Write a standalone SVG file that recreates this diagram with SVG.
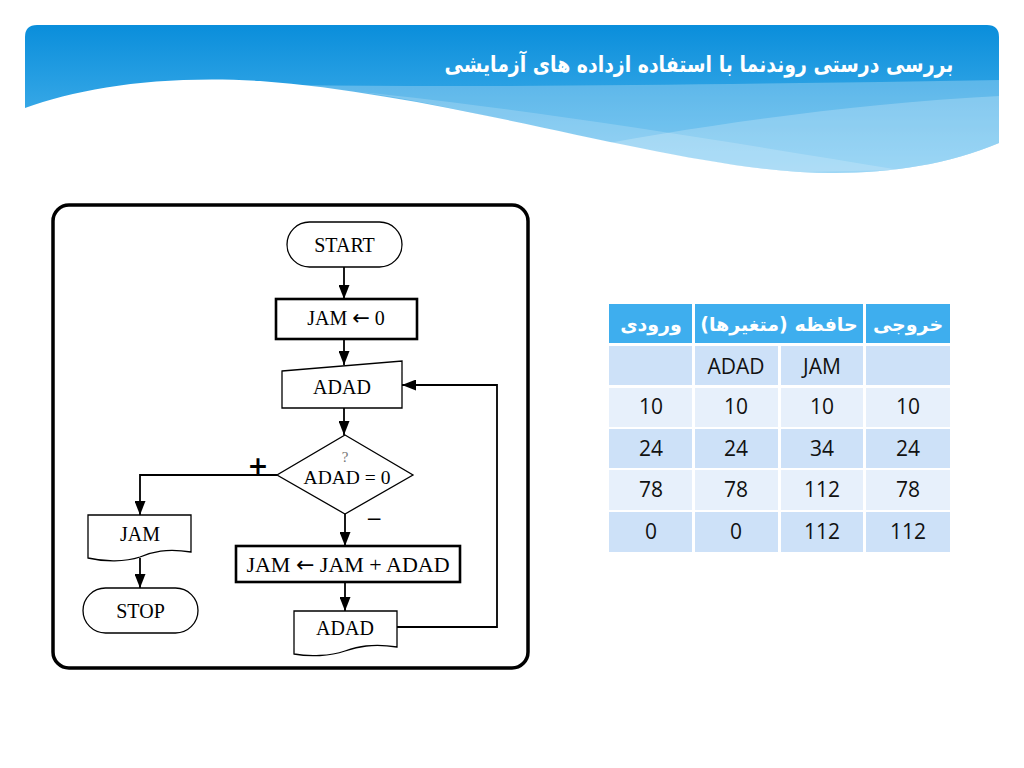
<svg xmlns="http://www.w3.org/2000/svg" width="1024" height="768" viewBox="0 0 1024 768">
<style>
.fc{font-family:"Liberation Serif","Times New Roman",serif;fill:#000;text-anchor:middle}
.ar{font-family:"DejaVu Sans",sans-serif}
.thin{fill:#fff;stroke:#000;stroke-width:1.3}
.bold{fill:#fff;stroke:#000;stroke-width:2.6}
.conn{fill:none;stroke:#000;stroke-width:1.8}
.fa{font-family:"DejaVu Sans","Noto Sans",sans-serif;direction:rtl;text-anchor:middle}
.th{fill:#3eaeee}
.rd{fill:#cde1f8}
.rl{fill:#e7f0fb}
.td{font-family:"Open Sans","Noto Sans",sans-serif;font-size:21px;fill:#111;text-anchor:middle}
</style>
<defs>
<linearGradient id="bg" x1="0" y1="25" x2="0" y2="175" gradientUnits="userSpaceOnUse">
<stop offset="0" stop-color="#0a8edb"/>
<stop offset="1" stop-color="#58bbef"/>
</linearGradient>
<marker id="ah" viewBox="0 0 14 11" refX="14" refY="5.5" markerWidth="14" markerHeight="11" markerUnits="userSpaceOnUse" orient="auto">
<path d="M0,0 L14,5.5 L0,11 Z" fill="#000"/>
</marker>
</defs>
<rect width="1024" height="768" fill="#fff"/>
<g id="banner">
<path d="M25,108 L25,37 Q25,25 37,25 L987,25 Q999,25 999,37 L999,143 C940,168 870,176 800,172 C650,162 450,95 260,81 C160,75 80,88 25,108 Z" fill="url(#bg)"/>
<path d="M290,85 C500,88 750,84 999,80 L999,143 C940,168 870,176 800,172 C650,162 450,98 290,85 Z" fill="#fff" opacity="0.25"/>
<path d="M560,152 C700,125 850,104 999,96 L999,143 C940,168 870,176 800,172 C720,168 640,162 560,152 Z" fill="#fff" opacity="0.22"/>
<path d="M360,92 C520,108 720,140 900,170 L800,172 C650,162 480,108 360,92 Z" fill="#fff" opacity="0.18"/>
<text class="fa" transform="translate(699,72) scale(0.84,1)" x="0" y="0" font-size="22.5" font-weight="bold" fill="#fff">بررسی درستی روندنما با استفاده ازداده های آزمایشی</text>
</g>
<rect id="frame" x="53" y="205" width="475" height="463" rx="16" fill="#fff" stroke="#000" stroke-width="3.5"/>
<g id="connectors">
<path class="conn" d="M344,267 L344,299" marker-end="url(#ah)"/>
<path class="conn" d="M344,339 L344,365" marker-end="url(#ah)"/>
<path class="conn" d="M344,408 L344,435" marker-end="url(#ah)"/>
<path class="conn" d="M277,475 L140,475 L140,515" marker-end="url(#ah)"/>
<path class="conn" d="M345,514 L345,546" marker-end="url(#ah)"/>
<path class="conn" d="M345,582 L345,611" marker-end="url(#ah)"/>
<path class="conn" d="M397,627 L497,627 L497,385 L402,385" marker-end="url(#ah)"/>
<path class="conn" d="M140,558 L140,588" marker-end="url(#ah)"/>
<text x="258" y="474" font-family="DejaVu Sans,sans-serif" font-size="25" font-weight="bold" text-anchor="middle">+</text>
<text class="fc" x="374" y="528" font-size="27">−</text>
</g>
<g id="start">
<rect class="thin" x="287" y="222" width="115" height="45" rx="22.5"/>
<text class="fc" x="344.5" y="252" font-size="20">START</text>
</g>
<g id="init">
<rect class="bold" x="276" y="299" width="141" height="40"/>
<text class="fc" x="346" y="325" font-size="20">JAM <tspan class="ar" font-size="21">←</tspan> 0</text>
</g>
<g id="input">
<path class="thin" d="M282,371 L402,361 L402,408 L282,408 Z"/>
<text class="fc" x="342" y="394" font-size="20">ADAD</text>
</g>
<g id="decision">
<path class="thin" d="M345,435 L413,475 L345,514 L277,475 Z"/>
<text class="fc" x="345" y="462" font-size="15" style="fill:#777">?</text>
<text class="fc" x="347" y="484" font-size="19.5">ADAD = 0</text>
</g>
<g id="sum">
<rect class="bold" x="236" y="546" width="224" height="36"/>
<text class="fc" x="348" y="572" font-size="22">JAM <tspan class="ar" font-size="22">←</tspan> JAM + ADAD</text>
</g>
<g id="outadad">
<path class="thin" d="M294,611 L397,611 L397,647 C372,643 357,647 345,651 C330,656 310,657 294,654 Z"/>
<text class="fc" x="345" y="635" font-size="20">ADAD</text>
</g>
<g id="outjam">
<path class="thin" d="M88,515 L191,515 L191,552 C166,548 152,552 140,557 C125,562 105,562 88,558 Z"/>
<text class="fc" x="140" y="541" font-size="20">JAM</text>
</g>
<g id="stop">
<rect class="thin" x="83" y="588" width="115" height="45" rx="22.5"/>
<text class="fc" x="140.5" y="618" font-size="20">STOP</text>
</g>
<g id="table">
<rect class="th" x="609" y="304" width="83" height="39"/>
<rect class="th" x="695" y="304" width="168" height="39"/>
<rect class="th" x="866" y="304" width="84" height="39"/>
<text class="fa" x="651" y="331" font-size="19" font-weight="bold" fill="#fff">ورودی</text>
<text class="fa" x="779" y="331" font-size="19" font-weight="bold" fill="#fff">حافظه (متغیرها)</text>
<text class="fa" x="908" y="331" font-size="19" font-weight="bold" fill="#fff">خروجی</text>
<g>
<rect class="rd" x="609" y="346" width="83" height="39"/><rect class="rd" x="695" y="346" width="83" height="39"/><rect class="rd" x="781" y="346" width="82" height="39"/><rect class="rd" x="866" y="346" width="84" height="39"/>
<rect class="rl" x="609" y="388" width="83" height="39"/><rect class="rl" x="695" y="388" width="83" height="39"/><rect class="rl" x="781" y="388" width="82" height="39"/><rect class="rl" x="866" y="388" width="84" height="39"/>
<rect class="rd" x="609" y="429" width="83" height="39"/><rect class="rd" x="695" y="429" width="83" height="39"/><rect class="rd" x="781" y="429" width="82" height="39"/><rect class="rd" x="866" y="429" width="84" height="39"/>
<rect class="rl" x="609" y="470" width="83" height="40"/><rect class="rl" x="695" y="470" width="83" height="40"/><rect class="rl" x="781" y="470" width="82" height="40"/><rect class="rl" x="866" y="470" width="84" height="40"/>
<rect class="rd" x="609" y="512" width="83" height="40"/><rect class="rd" x="695" y="512" width="83" height="40"/><rect class="rd" x="781" y="512" width="82" height="40"/><rect class="rd" x="866" y="512" width="84" height="40"/>
</g>
<text class="td" x="736" y="374">ADAD</text><text class="td" x="822" y="374">JAM</text>
<text class="td" x="651" y="414">10</text><text class="td" x="736" y="414">10</text><text class="td" x="822" y="414">10</text><text class="td" x="908" y="414">10</text>
<text class="td" x="651" y="456">24</text><text class="td" x="736" y="456">24</text><text class="td" x="822" y="456">34</text><text class="td" x="908" y="456">24</text>
<text class="td" x="651" y="497">78</text><text class="td" x="736" y="497">78</text><text class="td" x="822" y="497">112</text><text class="td" x="908" y="497">78</text>
<text class="td" x="651" y="539">0</text><text class="td" x="736" y="539">0</text><text class="td" x="822" y="539">112</text><text class="td" x="908" y="539">112</text>
</g>
</svg>
